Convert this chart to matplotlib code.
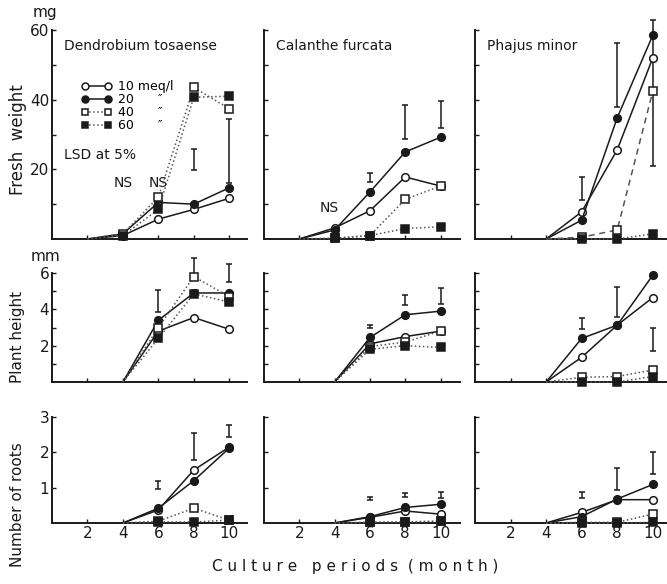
import matplotlib
matplotlib.use('Agg')
import matplotlib.pyplot as plt
from matplotlib.lines import Line2D

# months of culture
months_from_2 = [2, 4, 6, 8, 10]
months_from_4 = [4, 6, 8, 10]

concentrations = ['10 meq/l', '20', '40', '60']
species = ['Dendrobium tosaense', 'Calanthe furcata', 'Phajus minor']

# Fresh weight (mg), one list per concentration: 10, 20, 40, 60 meq/l
fw_dendrobium = [[0, 1.0, 5.7, 8.5, 11.7],
                 [0, 1.5, 10.5, 10.0, 14.7],
                 [0, 1.5, 12.0, 43.5, 37.4],
                 [0, 1.0, 8.5, 40.7, 41.0]]
fw_calanthe = [[0, 3.2, 8.1, 17.8, 15.2],
               [0, 2.6, 13.5, 25.0, 29.2],
               [0, 0.2, 1.0, 11.4, 15.2],
               [0, 0.2, 1.0, 3.0, 3.5]]
fw_phajus = [[0, 7.8, 25.6, 52.0],
             [0, 5.4, 34.8, 58.5],
             [0, 0.5, 2.6, 42.4],
             [0, 0.0, 0.0, 1.5]]

# Plant height (mm)
ph_dendrobium = [[0, 2.8, 3.55, 2.9],
                 [0, 3.4, 4.9, 4.9],
                 [0, 3.0, 5.8, 4.7],
                 [0, 2.4, 4.85, 4.4]]
ph_calanthe = [[0, 2.1, 2.5, 2.8],
               [0, 2.45, 3.7, 3.9],
               [0, 1.95, 2.2, 2.8],
               [0, 1.8, 2.0, 1.9]]
ph_phajus = [[0, 1.36, 3.13, 4.65],
             [0, 2.4, 3.13, 5.88],
             [0, 0.26, 0.3, 0.66],
             [0, 0.0, 0.0, 0.3]]

# Number of roots
nr_dendrobium = [[0, 0.37, 1.5, 2.15],
                 [0, 0.42, 1.2, 2.12],
                 [0, 0.05, 0.42, 0.08],
                 [0, 0.03, 0.03, 0.08]]
nr_calanthe = [[0, 0.16, 0.34, 0.25],
               [0, 0.18, 0.44, 0.53],
               [0, 0.02, 0.03, 0.05],
               [0, 0.02, 0.03, 0.05]]
nr_phajus = [[0, 0.3, 0.66, 0.66],
             [0, 0.18, 0.68, 1.09],
             [0, 0.02, 0.02, 0.25],
             [0, 0.0, 0.0, 0.02]]

# LSD at 5% bars: months, lower end, upper end
fw_dendrobium_lsd = ([8, 10], [19.7, 16.0], [25.7, 34.5])
fw_calanthe_lsd = ([6, 8, 10], [16.3, 28.8, 31.8], [18.9, 38.5, 39.7])
fw_phajus_lsd = ([6, 8, 10], [11.1, 37.8, 21.0], [17.8, 56.4, 63.0])
ph_dendrobium_lsd = ([6, 8, 10], [3.86, 5.7, 5.5], [5.05, 6.8, 6.5])
ph_calanthe_lsd = ([6, 8, 10], [3.0, 4.23, 4.3], [3.15, 4.78, 5.15])
ph_phajus_lsd = ([6, 8, 10], [2.9, 3.59, 1.72], [3.55, 5.24, 3.0])
nr_dendrobium_lsd = ([6, 8, 10], [0.96, 1.77, 2.42], [1.18, 2.56, 2.77])
nr_calanthe_lsd = ([6, 8, 10], [0.66, 0.75, 0.72], [0.75, 0.85, 0.87])
nr_phajus_lsd = ([6, 8, 10], [0.71, 0.94, 1.4], [0.87, 1.56, 2.0])

INK = '#1a1a1a'
DOT = '#555555'

styles = [dict(marker='o', mfc='white', ls='-', color=INK),
          dict(marker='o', mfc=INK, ls='-', color=INK),
          dict(marker='s', mfc='white', ls=':', color=DOT),
          dict(marker='s', mfc=INK, ls=':', color=DOT)]

plt.rcParams['font.family'] = 'DejaVu Sans'

W, H = 667, 584
fig = plt.figure(figsize=(W / 100, H / 100), dpi=100)

col_px = [(52, 195), (264, 196), (475, 192)]
col_xmax = [11.0, 11.1, 10.8]
row_px = [(30, 239), (273, 382), (417, 523)]
row_ylim = [60, 6, 3]

panels = [
    [(months_from_2, fw_dendrobium, fw_dendrobium_lsd),
     (months_from_2, fw_calanthe, fw_calanthe_lsd),
     (months_from_4, fw_phajus, fw_phajus_lsd)],
    [(months_from_4, ph_dendrobium, ph_dendrobium_lsd),
     (months_from_4, ph_calanthe, ph_calanthe_lsd),
     (months_from_4, ph_phajus, ph_phajus_lsd)],
    [(months_from_4, nr_dendrobium, nr_dendrobium_lsd),
     (months_from_4, nr_calanthe, nr_calanthe_lsd),
     (months_from_4, nr_phajus, nr_phajus_lsd)],
]

yticks = [[10, 20, 30, 40, 50, 60], [1, 2, 3, 4, 5, 6], [1, 2, 3]]
ylabels_txt = [['', '20', '', '40', '', '60'], ['', '2', '', '4', '', '6'], ['1', '2', '3']]

axes = []
for r in range(3):
    row_axes = []
    for c in range(3):
        x0, w = col_px[c]
        top, bot = row_px[r]
        ax = fig.add_axes([x0 / W, 1 - bot / H, w / W, (bot - top) / H])
        months, series, lsd = panels[r][c]
        for i, vals in enumerate(series):
            st = dict(styles[i])
            if r == 0 and c == 2 and i == 2:
                st['ls'] = (0, (4, 3))
            ax.plot(months, vals, lw=1.1, ms=5.5, mew=1.1, mec=INK,
                    markevery=slice(1, None), clip_on=False, zorder=3 + i, **st)
        lx, lo, hi = lsd
        mid = [(a + b) / 2 for a, b in zip(lo, hi)]
        half = [(b - a) / 2 for a, b in zip(lo, hi)]
        ax.errorbar(lx, mid, yerr=half, fmt='none', ecolor=INK, elinewidth=1.1,
                    capsize=2.5, capthick=1.1, clip_on=False)
        ax.set_xlim(0, col_xmax[c])
        ax.set_ylim(0, row_ylim[r])
        for s in ['top', 'right']:
            ax.spines[s].set_visible(False)
        for s in ['left', 'bottom']:
            ax.spines[s].set_linewidth(1.4)
            ax.spines[s].set_color(INK)
        ax.set_xticks([2, 4, 6, 8, 10])
        ax.set_yticks(yticks[r])
        ax.tick_params(direction='in', length=3, width=1, colors=INK, labelsize=11, pad=2)
        if c == 0:
            ax.set_yticklabels(ylabels_txt[r])
        else:
            ax.set_yticklabels([])
        if r == 2:
            ax.set_xticklabels(['2', '4', '6', '8', '10'])
        else:
            ax.set_xticklabels([])
        ax.patch.set_alpha(0)
        row_axes.append(ax)
    axes.append(row_axes)

# species names
for c, name in enumerate(species):
    axes[0][c].text(0.7, 55.5, name, fontsize=10, ha='left', va='center', color=INK)

# NS marks
axes[0][0].text(4, 16, 'NS', fontsize=10, ha='center', va='center', color=INK)
axes[0][0].text(6, 16, 'NS', fontsize=10, ha='center', va='center', color=INK)
axes[0][1].text(3.7, 8.8, 'NS', fontsize=10, ha='center', va='center', color=INK)
axes[0][0].text(0.7, 24.0, 'LSD at 5%', fontsize=10, ha='left', va='center', color=INK)

# legend
handles = [Line2D([], [], lw=1.1, ms=5, mew=1.1, mec=INK, **st) for st in styles]
labels = ['10 meq/l', '20      \u2033', '40      \u2033', '60      \u2033']
axes[0][0].legend(handles, labels, loc='upper left', bbox_to_anchor=(0.12, 0.79),
                  frameon=False, fontsize=9, numpoints=2, handlelength=2.4,
                  handletextpad=0.5, labelspacing=0.0, borderpad=0)

# units and axis titles
fig.text(45 / W, 1 - 12 / H, 'mg', fontsize=11, ha='center', va='center', color=INK)
fig.text(45 / W, 1 - 257 / H, 'mm', fontsize=11, ha='center', va='center', color=INK)
fig.text(18 / W, 1 - 140 / H, 'Fresh  weight', fontsize=12, rotation=90,
         ha='center', va='center', color=INK)
fig.text(18 / W, 1 - 337 / H, 'Plant height', fontsize=11, rotation=90,
         ha='center', va='center', color=INK)
fig.text(18 / W, 1 - 505 / H, 'Number of roots', fontsize=11, rotation=90,
         ha='center', va='center', color=INK)
fig.text(355 / W, 1 - 566 / H, 'C u l t u r e   p e r i o d s  ( m o n t h )', fontsize=11,
         ha='center', va='center', color=INK)

fig.savefig('out.png', dpi=100)
